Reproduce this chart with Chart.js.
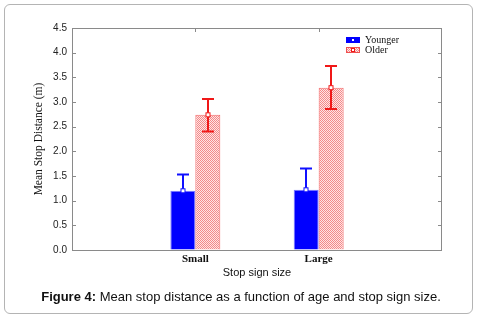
<!DOCTYPE html>
<html>
<head>
<meta charset="utf-8">
<script src="https://cdn.jsdelivr.net/npm/chart.js@4"></script>
<style>
  body { margin: 0; background: #fff; }
  #wrap { position: relative; width: 482px; height: 319px; }
  #frame { position: absolute; left: 4px; top: 4px; width: 469px; height: 310px;
           border: 1px solid #b4b4b4; border-radius: 6px; box-sizing: border-box; }
  #chartBox { position: absolute; left: 0; top: 0; width: 482px; height: 319px; }
  #caption { position: absolute; left: 0; width: 482px; top: 289px; text-align: center;
             font: 13px "Liberation Sans", Arial, sans-serif; color: #111; }
</style>
</head>
<body>
<div id="wrap">
  <div id="frame"></div>
  <div id="chartBox"><canvas id="myChart"></canvas></div>
  <div id="caption"><b>Figure 4:</b> Mean stop distance as a function of age and stop sign size.</div>
</div>
<script>
const categories = ["Small", "Large"];
const younger = [1.20, 1.22];
const youngerErrHi = [1.53, 1.65];
const older = [2.74, 3.29];
const olderErrLo = [2.40, 2.86];
const olderErrHi = [3.06, 3.73];
const yTicks = [0, 0.5, 1, 1.5, 2, 2.5, 3, 3.5, 4, 4.5];

// pad with empty slots so Small/Large sit at 1/3 and 2/3 of the axis
const labels = [""].concat(categories, [""]);
const pad = arr => [null].concat(arr, [null]);

// pink checker fill for "Older"
function makePattern() {
  const c = document.createElement('canvas');
  c.width = 2; c.height = 2;
  const g = c.getContext('2d');
  g.fillStyle = '#ffe4e4'; g.fillRect(0, 0, 2, 2);
  g.fillStyle = '#f28a8a'; g.fillRect(0, 0, 1, 1); g.fillRect(1, 1, 1, 1);
  return g.createPattern(c, 'repeat');
}
const olderFill = makePattern();

const serif = '"Liberation Serif", "Times New Roman", serif';
const sans = '"Liberation Sans", Arial, sans-serif';

const extras = {
  id: 'extras',
  afterDatasetsDraw(chart) {
    const { ctx, chartArea: a, scales: { x, y } } = chart;
    ctx.save();
    // frame + inward ticks
    ctx.strokeStyle = '#8a8a8a';
    ctx.lineWidth = 1;
    ctx.strokeRect(a.left + 0.5, a.top + 0.5, a.right - a.left - 1, a.bottom - a.top);
    ctx.beginPath();
    yTicks.forEach(v => {
      const py = Math.round(y.getPixelForValue(v)) + 0.5;
      ctx.moveTo(a.right - 4, py); ctx.lineTo(a.right, py);
      ctx.moveTo(a.left, py); ctx.lineTo(a.left + 4, py);
    });
    [1, 2].forEach(i => {
      const px = Math.round(x.getPixelForValue(i)) + 0.5;
      ctx.moveTo(px, a.top); ctx.lineTo(px, a.top + 4);
    });
    ctx.stroke();

    // error bars and mean markers
    const drawErr = (dsIndex, lo, hi, means, color) => {
      const meta = chart.getDatasetMeta(dsIndex);
      ctx.strokeStyle = color;
      ctx.lineWidth = 2;
      means.forEach((m, i) => {
        const bar = meta.data[i + 1];
        const px = Math.round(bar.x);
        const yHi = y.getPixelForValue(hi[i]);
        const yLo = y.getPixelForValue(lo ? lo[i] : m);
        ctx.beginPath();
        ctx.moveTo(px, yHi); ctx.lineTo(px, yLo);
        ctx.moveTo(px - 6, yHi); ctx.lineTo(px + 6, yHi);
        if (lo) { ctx.moveTo(px - 6, yLo); ctx.lineTo(px + 6, yLo); }
        ctx.stroke();
        const ym = y.getPixelForValue(m);
        ctx.fillStyle = '#fff';
        ctx.lineWidth = 1;
        ctx.fillRect(px - 2, ym - 2, 4, 4);
        ctx.strokeRect(px - 2, ym - 2, 4, 4);
        ctx.lineWidth = 2;
      });
    };
    drawErr(0, null, youngerErrHi, younger, '#1010ff');
    drawErr(1, olderErrLo, olderErrHi, older, '#f01818');

    // legend inside plot
    const lx = 346, ly = 37;
    ctx.fillStyle = '#0000ff';
    ctx.fillRect(lx, ly, 14, 6);
    ctx.fillStyle = '#fff';
    ctx.fillRect(lx + 6, ly + 2, 2, 2);
    ctx.fillStyle = olderFill;
    ctx.fillRect(lx, ly + 10, 14, 6);
    ctx.strokeStyle = '#f05050';
    ctx.lineWidth = 1;
    ctx.strokeRect(lx + 0.5, ly + 10.5, 13, 5);
    ctx.fillStyle = '#fff';
    ctx.fillRect(lx + 5, ly + 11, 4, 4);
    ctx.strokeStyle = '#f01818';
    ctx.strokeRect(lx + 5.5, ly + 11.5, 3, 3);
    ctx.fillStyle = '#111';
    ctx.font = '10px ' + serif;
    ctx.textBaseline = 'middle';
    ctx.fillText('Younger', 365, ly + 3);
    ctx.fillText('Older', 365, ly + 13);
    ctx.restore();
  }
};

new Chart(document.getElementById('myChart'), {
  type: 'bar',
  data: {
    labels: labels,
    datasets: [
      {
        label: 'Younger',
        data: pad(younger),
        backgroundColor: '#0000ff',
        borderColor: '#7a7aff',
        borderWidth: 1,
        categoryPercentage: 0.405,
        barPercentage: 1
      },
      {
        label: 'Older',
        data: pad(older),
        backgroundColor: olderFill,
        borderColor: '#f46a6a',
        borderWidth: 1,
        categoryPercentage: 0.405,
        barPercentage: 1
      }
    ]
  },
  options: {
    responsive: true,
    maintainAspectRatio: false,
    animation: false,
    layout: { padding: { left: 0, right: 40, top: 28, bottom: 39 } },
    plugins: {
      legend: { display: false },
      tooltip: { enabled: false }
    },
    scales: {
      x: {
        offset: false,
        afterFit: s => { s.height = 30; },
        grid: { display: false, drawTicks: false },
        border: { display: false },
        ticks: { color: '#111', font: { family: serif, size: 11, weight: 'bold' }, padding: 3 },
        title: { display: true, text: 'Stop sign size', color: '#111',
                 font: { family: sans, size: 11 }, padding: { top: 0, bottom: 0 } }
      },
      y: {
        min: 0,
        max: 4.5,
        afterFit: s => { s.width = 72; },
        afterBuildTicks: s => { s.ticks = yTicks.map(v => ({ value: v })); },
        grid: { drawOnChartArea: false, drawTicks: false },
        border: { display: false },
        ticks: { color: '#222', font: { family: sans, size: 10 }, padding: 5,
                 callback: v => v.toFixed(1) },
        title: { display: true, text: 'Mean Stop Distance (m)', color: '#111',
                 font: { family: serif, size: 11.5 }, padding: { top: 32, bottom: 0 } }
      }
    }
  },
  plugins: [extras]
});
</script>
</body>
</html>
